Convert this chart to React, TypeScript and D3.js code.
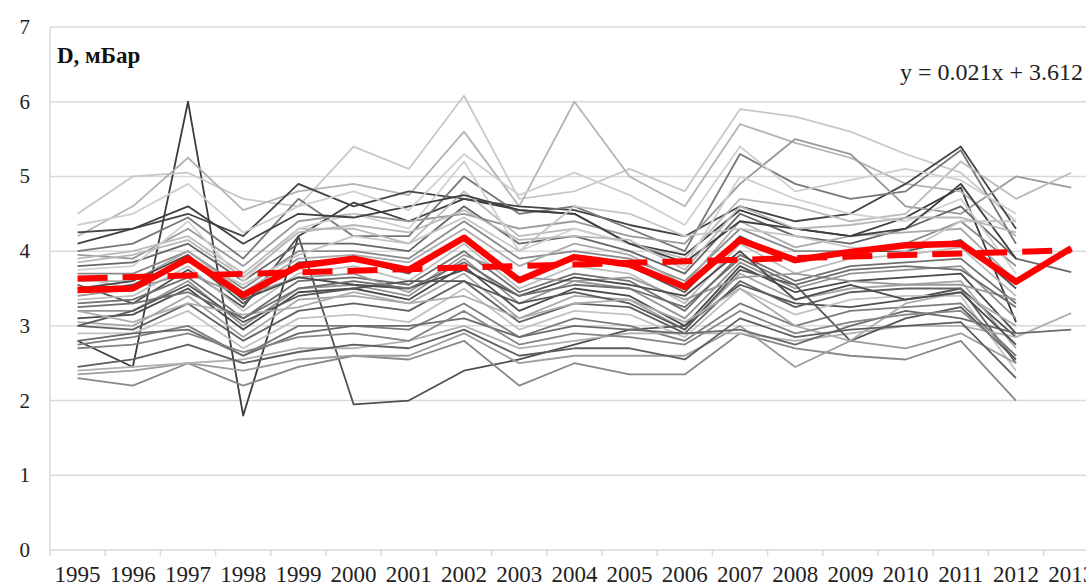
import React from 'react';
import * as d3 from 'd3';

const years = [
	'1995', '1996', '1997', '1998', '1999', '2000', '2001', '2002', '2003', '2004',
	'2005', '2006', '2007', '2008', '2009', '2010', '2011', '2012', '2013',
];

// mean D over all stations
const meanD = [3.48, 3.5, 3.9, 3.41, 3.8, 3.9, 3.75, 4.18, 3.61, 3.92, 3.82, 3.52, 4.15, 3.88, 3.99, 4.08, 4.1, 3.59, 4.04];

const trendSlope = 0.021;
const trendIntercept = 3.612;

// one row per station, null = no data
const stations: (number | null)[][] = [
	[2.8, 2.45, 6.0, 1.8, 4.2, 4.65, 4.4, 4.7, 4.55, 4.5, 4.1, 3.95, 4.55, 4.3, 4.2, 4.45, 4.85, 3.05, null],
	[3.55, 3.3, 3.75, 3.25, 4.2, 1.95, 2.0, 2.4, 2.55, 2.75, 2.95, 3.0, 3.55, 3.3, 3.25, 3.35, 3.5, 2.85, null],
	[4.5, 5.0, 5.05, 4.7, 4.6, 5.4, 5.1, 6.08, 4.7, 4.8, 5.1, 4.8, 5.9, 5.8, 5.6, 5.3, 5.05, 4.4, null],
	[4.2, 4.6, 5.25, 4.55, 4.8, 4.9, 4.75, 5.6, 4.6, 6.0, 5.0, 4.6, 5.7, 5.45, 5.25, 4.9, 4.8, 4.2, null],
	[4.25, 4.3, 4.5, 4.2, 4.9, 4.6, 4.8, 4.7, 4.6, 4.55, 4.35, 4.2, 4.6, 4.4, 4.5, 4.9, 5.4, 4.3, null],
	[4.0, 4.1, 4.45, 3.9, 4.7, 4.2, 4.2, 5.0, 4.5, 4.6, 4.3, 4.0, 5.3, 4.9, 4.7, 4.8, 5.35, 4.1, null],
	[3.95, 3.9, 4.3, 3.8, 4.4, 4.5, 4.4, 4.5, 4.3, 4.4, 4.2, 4.1, 4.9, 5.5, 5.3, 4.6, 4.5, 5.0, 4.85],
	[3.9, 4.0, 4.2, 3.7, 4.3, 4.3, 4.1, 4.8, 4.2, 4.3, 4.1, 3.9, 4.7, 4.6, 4.4, 4.5, 5.2, 4.7, 5.05],
	[3.8, 3.85, 4.1, 3.6, 4.1, 4.1, 4.0, 4.6, 4.1, 4.2, 4.0, 3.7, 4.5, 4.2, 4.1, 4.3, 4.6, 3.9, 3.72],
	[3.7, 3.7, 4.0, 3.5, 4.0, 4.0, 3.9, 4.4, 3.9, 4.0, 3.9, 3.6, 4.3, 4.0, 4.0, 4.1, 4.4, 3.8, null],
	[3.6, 3.6, 4.0, 3.45, 3.9, 3.95, 3.85, 4.3, 3.8, 4.1, 3.95, 3.55, 4.4, 4.05, 4.2, 4.25, 4.3, 3.6, null],
	[3.45, 3.55, 3.9, 3.3, 3.85, 3.9, 3.7, 4.2, 3.6, 3.9, 3.8, 3.45, 4.2, 3.85, 4.0, 4.0, 4.15, 3.5, null],
	[3.35, 3.4, 3.8, 3.2, 3.7, 3.8, 3.6, 4.1, 3.5, 3.8, 3.7, 3.3, 4.1, 3.7, 3.9, 3.95, 4.05, 3.4, null],
	[3.3, 3.35, 3.65, 3.1, 3.6, 3.65, 3.55, 4.0, 3.45, 3.7, 3.6, 3.2, 3.95, 3.6, 3.8, 3.85, 3.9, 3.3, null],
	[3.2, 3.2, 3.6, 3.0, 3.5, 3.55, 3.4, 3.9, 3.3, 3.6, 3.5, 3.1, 3.85, 3.5, 3.7, 3.75, 3.8, 3.1, null],
	[3.1, 3.15, 3.5, 2.95, 3.45, 3.5, 3.35, 3.8, 3.2, 3.5, 3.4, 3.0, 3.8, 3.45, 3.6, 3.65, 3.7, 2.9, null],
	[3.05, 3.0, 3.4, 2.85, 3.35, 3.4, 3.3, 3.7, 3.1, 3.4, 3.35, 2.95, 3.7, 3.35, 3.5, 3.55, 3.6, 2.7, null],
	[3.0, 2.95, 3.3, 2.8, 3.2, 3.3, 3.2, 3.6, 3.05, 3.3, 3.25, 2.9, 3.6, 3.25, 3.45, 3.5, 3.5, 2.5, null],
	[2.9, 2.9, 3.2, 2.7, 3.1, 3.15, 3.05, 3.5, 2.95, 3.2, 3.15, 2.85, 3.5, 3.15, 3.35, 3.4, 3.4, 2.4, null],
	[2.75, 2.85, 3.0, 2.6, 3.0, 3.0, 2.95, 3.3, 2.85, 3.1, 3.0, 2.8, 3.3, 3.0, 3.2, 3.25, 3.3, 2.6, null],
	[2.3, 2.2, 2.5, 2.2, 2.45, 2.6, 2.55, 2.8, 2.2, 2.5, 2.35, 2.35, 2.9, 2.7, 2.6, 2.55, 2.8, 2.0, null],
	[2.35, 2.4, 2.5, 2.4, 2.55, 2.6, 2.6, 2.9, 2.5, 2.6, 2.6, 2.6, 3.0, 2.45, 2.8, 2.7, 2.9, 2.5, null],
	[2.4, 2.45, 2.5, 2.55, 2.7, 2.7, 2.8, 3.0, 2.7, 2.8, 2.9, 2.9, 2.9, 2.8, 2.9, 3.0, 3.0, 2.85, 3.17],
	[2.8, 2.9, 2.95, 2.6, 2.9, 3.0, 3.0, 3.1, 2.85, 3.0, 2.95, 2.9, 2.95, 2.75, 3.0, 3.2, 3.1, 2.9, 2.95],
	[3.75, 3.8, 4.4, 3.6, 4.3, 4.5, 4.3, 5.2, 4.0, 4.3, 4.1, 3.8, 5.0, 4.7, 4.5, 4.4, 4.7, 3.7, null],
	[4.1, 4.3, 4.6, 4.1, 4.5, 4.45, 4.6, 4.75, 4.55, 4.5, 4.1, 3.85, 4.4, 4.3, 4.2, 4.3, 4.9, 3.9, null],
	[3.65, 3.5, 3.9, 3.55, 3.95, 4.2, 4.1, 4.45, 4.0, 4.6, 4.5, 4.2, 4.3, 4.2, 4.05, 4.0, 4.4, 4.4, null],
	[3.0, 3.2, 3.55, 3.05, 3.4, 3.5, 3.6, 3.6, 3.3, 3.45, 3.3, 2.95, 3.75, 3.55, 2.8, 3.1, 3.25, 2.55, null],
	[3.4, 3.5, 3.7, 3.4, 3.65, 3.7, 3.45, 3.95, 3.65, 3.6, 3.65, 3.35, 3.65, 3.7, 3.6, 3.55, 3.55, 3.35, null],
	[3.2, 3.05, 3.3, 3.15, 3.25, 3.45, 3.3, 3.4, 3.1, 3.3, 3.35, 3.05, 3.5, 3.0, 2.8, 3.3, 3.45, 3.0, null],
	[4.35, 4.5, 4.9, 4.25, 4.6, 4.8, 4.55, 5.3, 4.75, 5.05, 4.75, 4.35, 5.4, 4.8, 4.95, 5.1, 4.95, 4.5, null],
	[3.5, 3.6, 3.95, 3.35, 3.65, 3.55, 3.5, 3.75, 3.4, 3.65, 3.55, 3.4, 4.0, 3.35, 3.55, 3.35, 3.45, 2.75, null],
	[2.7, 2.75, 2.9, 2.65, 2.85, 2.9, 2.8, 3.2, 2.75, 2.9, 2.85, 2.75, 3.2, 2.9, 3.05, 3.15, 3.2, 2.6, null],
	[3.85, 3.95, 4.15, 3.65, 4.25, 4.35, 4.25, 4.55, 4.15, 4.2, 4.15, 3.75, 4.6, 4.3, 4.35, 4.45, 4.45, 4.25, null],
	[3.25, 3.3, 3.45, 3.1, 3.5, 3.6, 3.5, 3.85, 3.4, 3.55, 3.5, 3.25, 3.9, 3.55, 3.75, 3.8, 3.75, 3.25, null],
	[2.45, 2.55, 2.75, 2.5, 2.65, 2.75, 2.7, 2.95, 2.6, 2.7, 2.7, 2.55, 3.1, 2.85, 2.95, 3.0, 3.05, 2.3, null],
];

const shades = [
	'#3c3c3c', '#505050', '#c8c8c8', '#b4b4b4', '#444444', '#777777', '#999999', '#bbbbbb', '#666666',
	'#8a8a8a', '#aaaaaa', '#555555', '#bdbdbd', '#707070', '#939393', '#4a4a4a', '#a6a6a6', '#606060',
	'#c2c2c2', '#7c7c7c', '#888888', '#9c9c9c', '#b0b0b0', '#6a6a6a', '#d0d0d0', '#3f3f3f', '#c5c5c5',
	'#575757', '#9a9a9a', '#adadad', '#cfcfcf', '#4c4c4c', '#858585', '#b8b8b8', '#6e6e6e', '#5e5e5e',
];

const yTicks = [0, 1, 2, 3, 4, 5, 6, 7];

const W = 1086,
	H = 588,
	left = 50,
	step = 55.2,
	top = 27,
	bottom = 550,
	serif = 'Liberation Serif';

const App = () => {
	const x = d3.scaleBand<string>().domain( years ).range( [ left, left + step * years.length ] ),
		y = d3.scaleLinear().domain( [ 0, 7 ] ).range( [ bottom, top ] ),
		cx = ( yr: string ) => ( x( yr ) as number ) + x.bandwidth() / 2,
		line = d3
			.line<number | null>()
			.defined( ( d ) => d != null )
			.x( ( d, i ) => cx( years[ i ] ) )
			.y( ( d ) => y( d as number ) ),
		trend = years.map( ( yr, i ) => trendSlope * ( i + 1 ) + trendIntercept );

	return (
		<svg width={W} height={H} style={{ position: 'absolute', left: 0, top: 0, background: '#fff' }}>
			{yTicks.map( ( t ) => (
				<g key={t}>
					<line x1={left} x2={W} y1={y( t )} y2={y( t )} stroke="#d9d9d9" strokeWidth={1.5} />
					<text x={30} y={y( t ) + 7} textAnchor="end" fontFamily={serif} fontSize={21} fill="#222">
						{t}
					</text>
				</g>
			) )}
			<line x1={left} x2={left} y1={top} y2={bottom} stroke="#d9d9d9" strokeWidth={1.5} />
			{years.map( ( yr ) => (
				<g key={yr}>
					<line
						x1={x( yr ) as number}
						x2={x( yr ) as number}
						y1={bottom}
						y2={bottom + 6}
						stroke="#d9d9d9"
						strokeWidth={1.5}
					/>
					<text x={cx( yr )} y={582} textAnchor="middle" fontFamily={serif} fontSize={23} fill="#222">
						{yr}
					</text>
				</g>
			) )}

			{stations.map( ( s, i ) => (
				<path key={i} d={line( s ) || ''} fill="none" stroke={shades[ i ]} strokeWidth={1.8} strokeLinejoin="round" />
			) )}

			<path
				d={line( trend ) || ''}
				fill="none"
				stroke="#ff0000"
				strokeWidth={6}
				strokeDasharray="30 15"
			/>
			<path d={line( meanD ) || ''} fill="none" stroke="#ff0000" strokeWidth={6.5} strokeLinejoin="round" />

			<text x={57} y={63} fontFamily={serif} fontWeight={700} fontSize={23} fill="#111">
				D, мБар
			</text>
			<text x={1083} y={80} textAnchor="end" fontFamily={serif} fontSize={24} fill="#222">
				y = 0.021x + 3.612
			</text>
		</svg>
	);
};

export default App;
